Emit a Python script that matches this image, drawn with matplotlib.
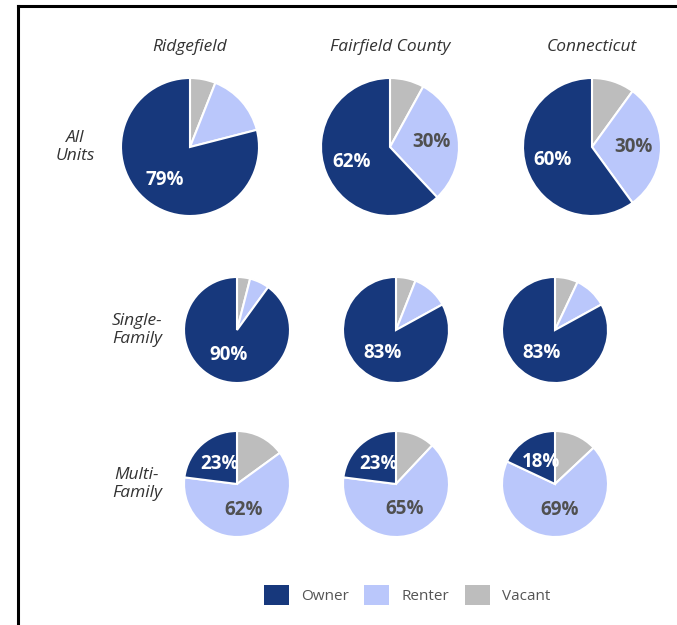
import matplotlib
matplotlib.use("Agg")
import matplotlib.pyplot as plt
import numpy as np
from matplotlib.patches import Patch
from matplotlib.lines import Line2D

plt.rcParams['font.family'] = ['Open Sans', 'DejaVu Sans']

# data
places = ['Ridgefield', 'Fairfield County', 'Connecticut']
unit_types = ['All\nUnits', 'Single-\nFamily', 'Multi-\nFamily']
segments = ['Vacant', 'Renter', 'Owner']   # clockwise from 12 o'clock

owner = [[79, 62, 60],
         [90, 83, 83],
         [23, 23, 18]]
renter = [[15, 30, 30],
          [6, 11, 10],
          [62, 65, 69]]
vacant = [[6, 8, 10],
          [4, 6, 7],
          [15, 12, 13]]

colors = {'Owner': '#17387c', 'Renter': '#bac7fb', 'Vacant': '#bdbdbd'}
label_colors = {'Owner': 'white', 'Renter': '#505050', 'Vacant': '#505050'}

W, H = 677, 625
fig = plt.figure(figsize=(W / 100, H / 100), dpi=100)

# layout in pixels (center x per column, center y, diameter) for each row
col_x = [[190, 390, 592],
         [237, 396, 555],
         [237, 396, 555]]
row_y = [147, 330, 484]
diam = [138, 106, 106]
label_dist = [0.6, 0.5, 0.5]
row_label_x = [75, 137, 137]


def px_axes(cx, cy, d):
    return fig.add_axes([(cx - d / 2) / W, 1 - (cy + d / 2) / H, d / W, d / H])


for r in range(3):
    for c in range(3):
        ax = px_axes(col_x[r][c], row_y[r], diam[r])
        vals = [vacant[r][c], renter[r][c], owner[r][c]]
        wedges, _ = ax.pie(vals, colors=[colors[s] for s in segments],
                           startangle=90, counterclock=False,
                           wedgeprops=dict(edgecolor='white', linewidth=1.5))
        for w, v, s in zip(wedges, vals, segments):
            if v < 18:
                continue
            ang = np.deg2rad((w.theta1 + w.theta2) / 2)
            d = label_dist[r]
            ax.text(d * np.cos(ang), d * np.sin(ang), f'{v}%',
                    ha='center', va='center', fontsize=13.5,
                    fontweight='bold', color=label_colors[s])
        ax.set_xlim(-1, 1)
        ax.set_ylim(-1, 1)
        ax.set_aspect('equal')

# column headers
for c, name in enumerate(places):
    fig.text(col_x[0][c] / W, 1 - 47 / H, name, ha='center', va='center',
             fontsize=12.5, style='italic', color='#333333')

# row labels
for r, name in enumerate(unit_types):
    fig.text(row_label_x[r] / W, 1 - row_y[r] / H, name, ha='center',
             va='center', fontsize=12.5, style='italic', color='#333333',
             linespacing=1.12)

# legend
handles = [Patch(facecolor=colors[s], edgecolor='none')
           for s in ['Owner', 'Renter', 'Vacant']]
leg = fig.legend(handles, ['Owner', 'Renter', 'Vacant'], loc='center',
                 bbox_to_anchor=(407 / W, 1 - 595 / H), ncol=3, frameon=False,
                 fontsize=11, handlelength=1.65, handleheight=1.65,
                 handletextpad=0.8, columnspacing=1.0)
for t in leg.get_texts():
    t.set_color('#555555')

# frame lines (top and left)
fig.add_artist(Line2D([18 / W, 1], [1 - 6 / H, 1 - 6 / H], color='black',
                      linewidth=2.2))
fig.add_artist(Line2D([18 / W, 18 / W], [0, 1 - 6 / H], color='black',
                      linewidth=2.2))

fig.savefig('out.png', dpi=100, facecolor='white')
